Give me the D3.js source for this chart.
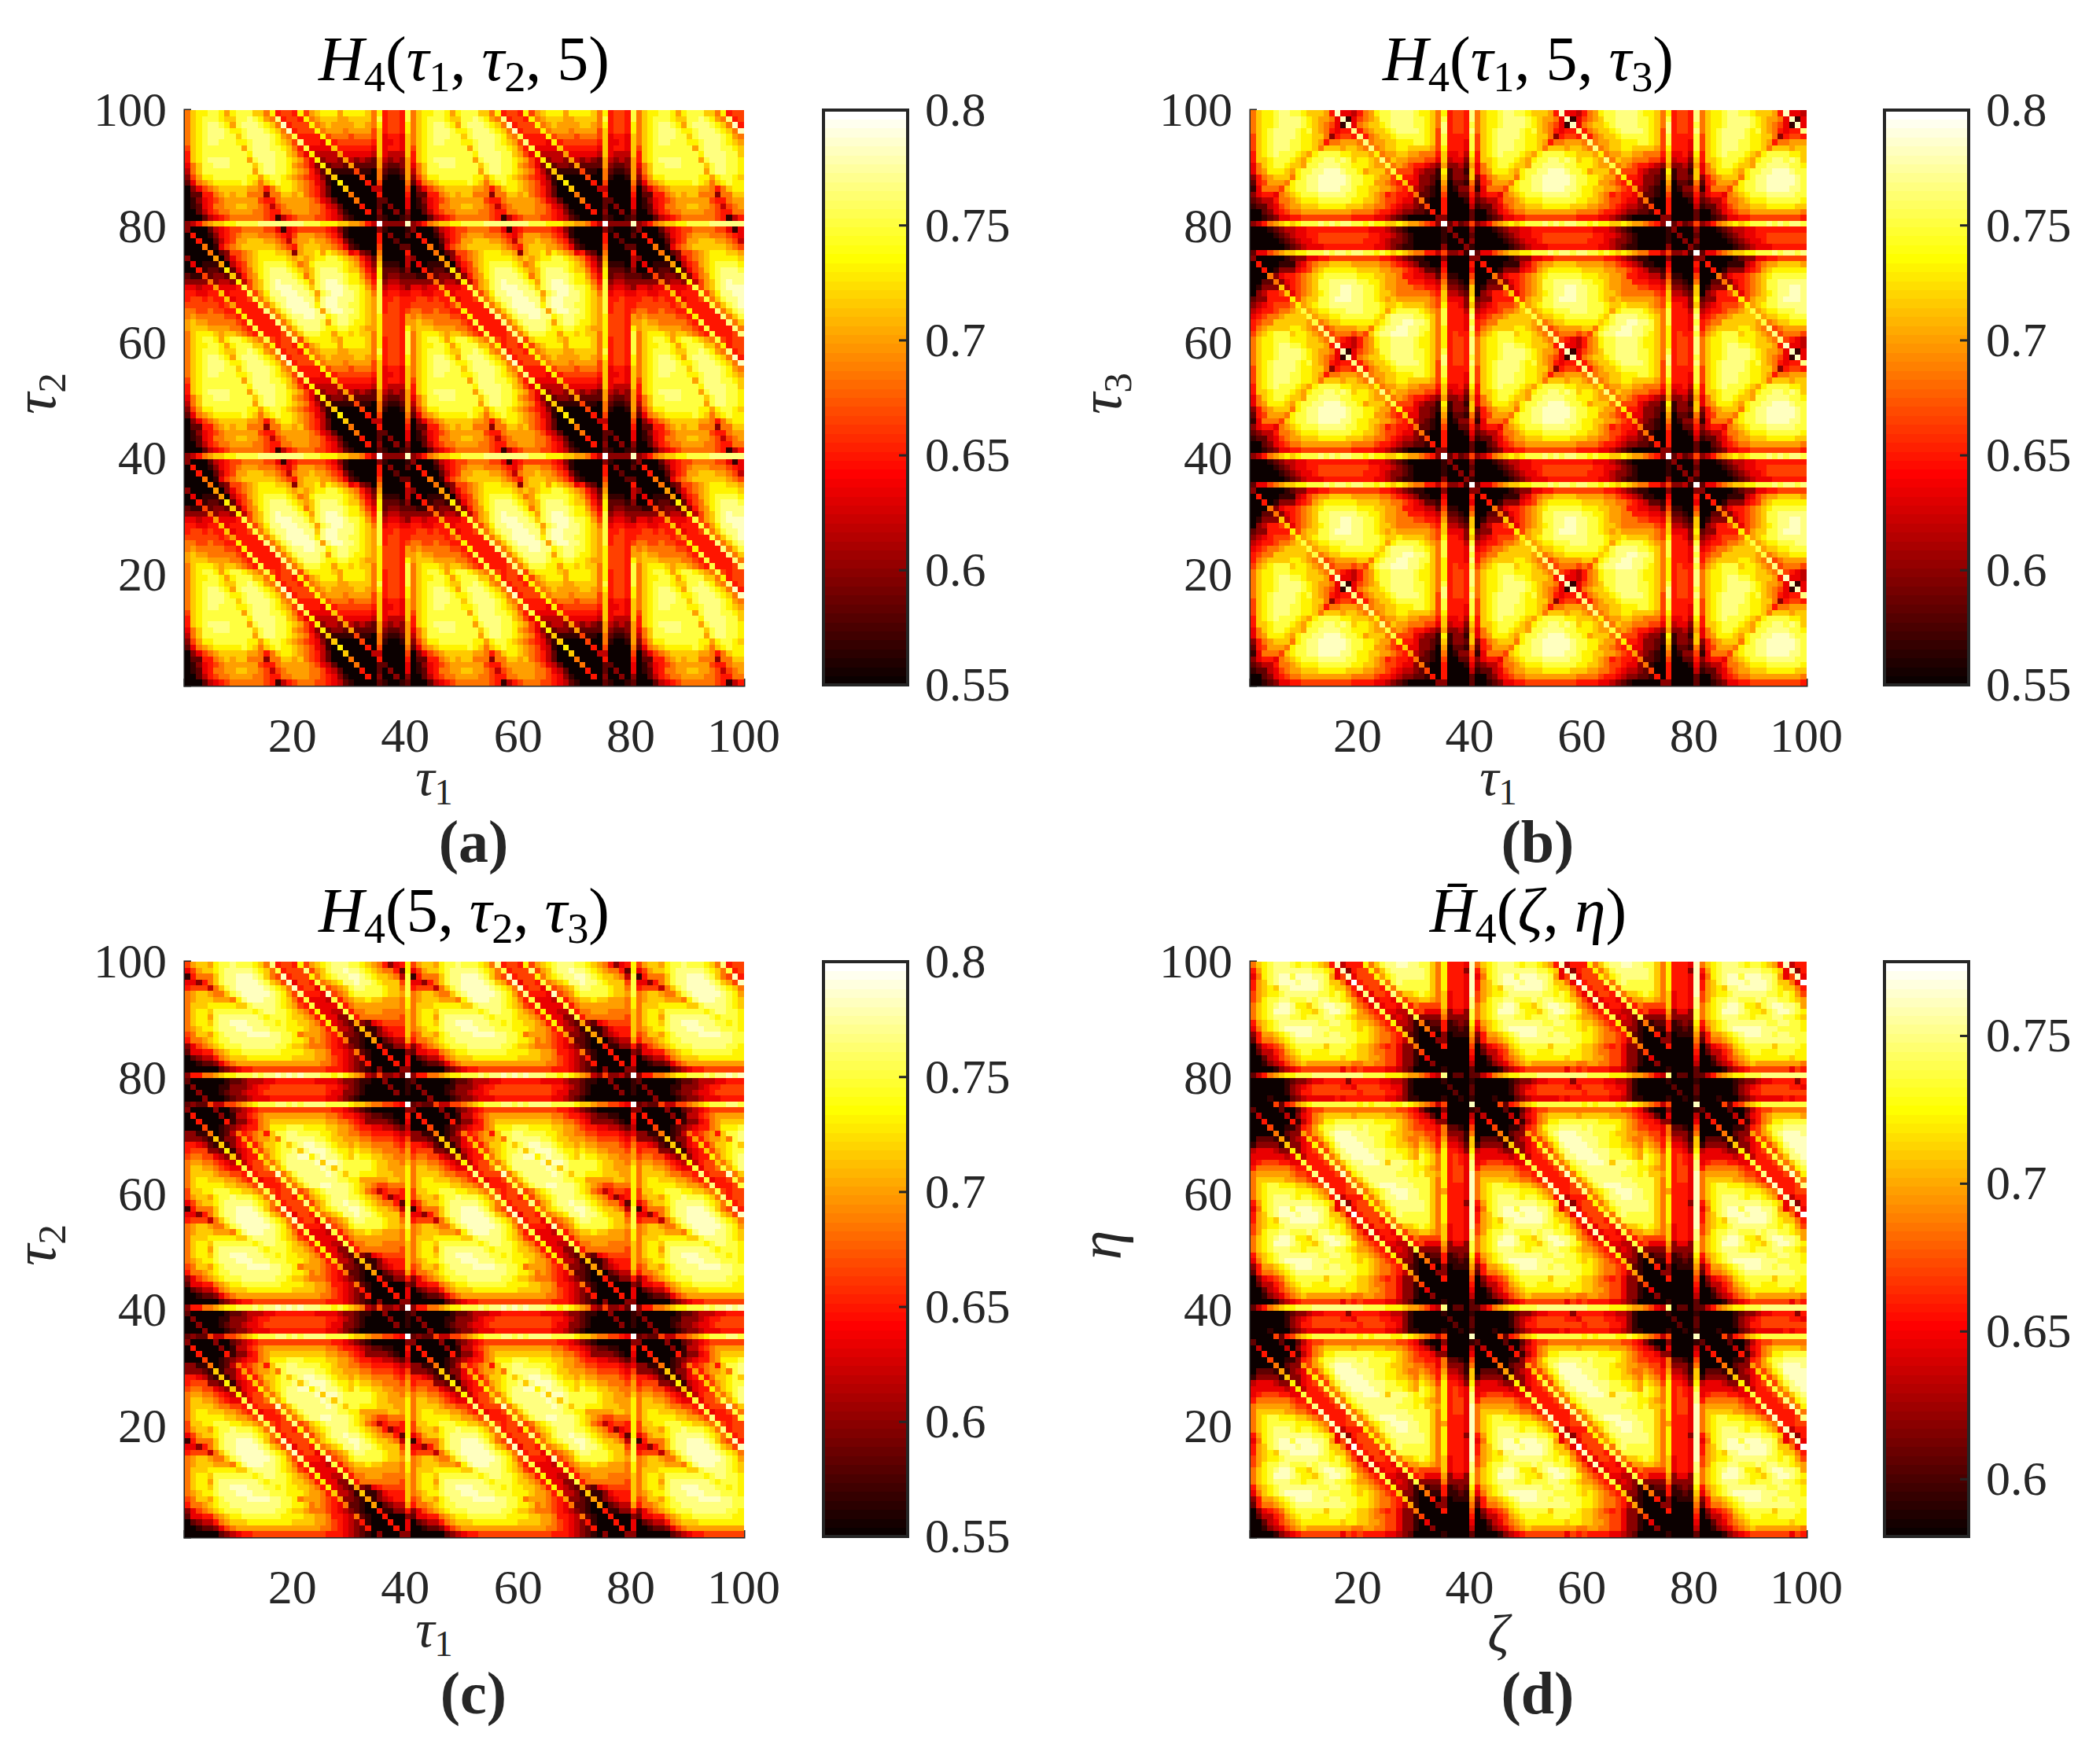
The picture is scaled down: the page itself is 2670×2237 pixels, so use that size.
<!DOCTYPE html>
<html>
<head>
<meta charset="utf-8">
<script src="https://cdn.jsdelivr.net/npm/d3@7"></script>
<style>
  html, body { margin: 0; background: #fff; }
  text { font-family: "Liberation Serif", serif; fill: #262626; }
</style>
</head>
<body>
<svg id="chart" width="2670" height="2237"></svg>
<script>
// Cell values are estimates read by eye from crops of the picture. The maps repeat
// every 40 cells, so one 40x40 period is kept per panel and repeated over the 99x99 grid.
// Each character is a colour level, 0 (bottom of the colorbar) to f (top).
var tileA = [
  "8abbccb9bc ccaa8b6776 b79abbb9bb bba8b6776c",
  "8abcccbaac cdcb98d677 6b89aaa99a aaa8c6776c",
  "8abcddcb9c dddcba8e67 77b89a9999 aa98b6776b",
  "8abcdddcbb cdddcba8e6 777b899989 9997a6776b",
  "8abcdddcca cddddcb98c 6666b78887 8887a5665a",
  "8abcddcccb bcdddcba97 d6665b6777 7776a5565a",
  "7abccccccc 9cdddccba8 6c5555a666 6665a5665a",
  "6abccccccc cbddddcca9 75b4444955 5554a5444a",
  "6abcddddcc c9cdddccba 975b344394 3432943439",
  "58accdddcc ccacddccb9 8753b23329 2222932239",
  "48accccccc cc9cddccba 98642a1111 7110821129",
  "379bbccccc cbb9bccba9 876531a000 0700810019",
  "2589abbbbb cba8abcbba 9875410b00 0060700008",
  "035789aaaa a99868abba 98764200a0 0004400007",
  "0226689a9a a888388aa9 a876420008 0000600006",
  "0135678999 9997668999 9987542000 8000220005",
  "012568899a a998747899 9988754200 0600203005",
  "0024678899 9988766889 9988765310 0060300303",
  "0002456788 8888761467 8887765421 0000210012",
  "34689aabbc cccddddddd dcccbbbaa9 9864f3333e",
  "3000245677 8888775156 7777765310 0000310001",
  "0600135678 9998887657 9998876410 0000603002",
  "0060024679 9aaa998748 99a9987631 0000600200",
  "0008015789 aaaaaa9876 9aaa998752 1000700022",
  "0000802377 89abbbaa93 9aab9ba985 6320800006",
  "3000090357 89abbbbba9 a9abbccba9 8642900004",
  "0501119046 79abccccba 89bcccccba 9753a11104",
  "0061221b25 78abcdddcb a9acdddcba a864b22213",
  "21172332a3 689bcddddc b8acddddcb b975b23322",
  "333383443b 479acdeddd cb9cdeedcb ba86c34433",
  "5545595556 c79acdeeed dcacdeeedc cb97c45543",
  "665566a566 6c79bddeee ddc9cdeedd cba8c56655",
  "6776766a56 67c8acddee eddadeeddd cba9c66766",
  "7777776796 666c8acdee eedbdeeddc cba9c67766",
  "887787766b 6666d8acde eeed9deedd cba9c67767",
  "8988888776 b6666d8acd deeddbcddc cba9b77769",
  "9a99888887 6c6666d8ac ddddc9cddc bba9b77769",
  "9aaa999988 76c6666d8a cdddcbbccb ba99b7776b",
  "8abbba9aa9 876c6667d8 acccbb9bba baa8b7776c",
  "8abccb9bcc ba98c7677d 7abbbba9bb bba8b6776c"
];
var tileB = [
  "8abbcddccb aaa96e5546 89bccddddc bba8b6776d",
  "8abbcddddc ba9985e157 89accddddc cba8c6776d",
  "8abbcddddc ba98751e58 9aabcddddc cba8d6776c",
  "8abcddddcb ca986566d6 89aabcdddd cba7d6776d",
  "7abcddddcb baa836776d 689aabcccc cba7c6666c",
  "7abcdddccb ba96889998 d899aabbbc cba7c6665c",
  "7abcdddccb ba8aaa9aa9 8d89aabbaa aa97b6665c",
  "6abcdcccba 9bccccbbaa a9b899aa99 8886a5564b",
  "6aabcccba9 bccddcdcab ba9d8a9988 8775a4553a",
  "58abccbaa9 ccddddccbb ba99c89876 6543933429",
  "589bbba9bc cddeeedccb 9aaa8c7775 4331b1331a",
  "3689aaa8bc ddeeeeedcc bba997b665 3321a1332a",
  "2679998bcc ddeeeeedcc bb99876a55 3320902218",
  "158887abcc ddeeeeddcb baa9987694 3210801337",
  "3566589abc ccdddddccb ba98676658 2210700226",
  "23446889ab bbccccccbb aa98776553 8100600015",
  "122457899a aabbbbbaaa 9988765443 2700600004",
  "0023567889 9999999988 8876654332 2160600002",
  "0012355667 7777777766 6655432100 0003300002",
  "34689ababc ccdcdcddcc bcbbaaba99 8763f24237",
  "0001234455 6666666666 6555432100 0000130003",
  "0000123455 6677777777 7665543210 0000103002",
  "0000012345 5677777777 6665433210 0000100303",
  "0000001234 5556666666 6655432110 0000300031",
  "255789aabb cccdcddcdd ccbcbaba98 866473341f",
  "3000001233 5566777777 7776654321 1000300003",
  "0600011145 7899aaaa99 9998876543 1100500006",
  "0060133356 79abbbbbba aaa9988765 4221600005",
  "0008356678 9abccccccb bbaa998665 5442711007",
  "0022835678 9accdddddc cbba998866 6554822108",
  "01333a4678 9accddeedd ccba998887 766593321a",
  "034667a578 9abcddeedd ccbaa98888 8876a4432a",
  "2336666b79 aaccdeeedd ccba9a9999 9987a5553b",
  "34567778b9 abccdddddd cccbaabaaa a987b6653a",
  "45667889ac 9abbcccddd cccb9bcccc ba98c6664c",
  "567889aaaa c9aabbcccc ccbacddddc cba8c6665d",
  "6788aaaaaa 9c89aabbbb bbabcddeed dca8c6665c",
  "689aaaabba 98d789999a a8bcddeedd cca8b6665d",
  "79abcccabb a98d788878 7acddeeedd cba8b6766c",
  "8abbcccbbb aa98d76546 89bccddddc bba8b6776d"
];
var tileC = [
  "79aa9bccdc ccba8d6776 b79abcdddc cba986356b",
  "579aabcddd ddcba8c677 7d79acdded dcba98862b",
  "16888acdde eedca87e67 77b8abcdde edcbaa984c",
  "55368acdde eeedca97e5 776c89abdd eddcbaaa7c",
  "677748acde eeeedcba8e 6775c789ac ddcccbaa8c",
  "89aa988acd eeeeedcb97 d6665e789b cccccbaa9c",
  "89aaa9998b deeeddcba8 6c5554c689 aabaa9998b",
  "8aaabbbbba acddddcba9 76c5555c68 999999998b",
  "8abbaccccc ccbcddccba 986b5544c6 889998888a",
  "8abb9cdddd dddcbcccba a986b5533c 688888887a",
  "8abbacddee edddccbcbb aa986b5432 932567777a",
  "89abbcddde eedddcccbb ba9986a443 1a1135666a",
  "78aa9bcddd deeeeddccb 8999876933 219134566a",
  "6889abccdd dddddddccb ba89876582 2109023449",
  "35789abccc ddddddccba a988876543 2100611336",
  "2556689abb cccccccbbb baa9986654 8210060003",
  "02344689aa abbbbbbbba aaa9987654 3610006005",
  "0012235789 9999999999 9999887654 3260000605",
  "0000002345 6677777777 7777766654 3210300033",
  "366889abbc ccdcddeded edddccbcba 984373342f",
  "2000000122 3444556666 6665555433 2110030001",
  "0300001133 3456677777 7777766543 2100003001",
  "0030001233 4556777777 7777765533 2100000301",
  "0003000123 3455566666 6666655432 1000000000",
  "2322744778 9abcccddcd cddddccccb aa9887765f",
  "3000030023 4567777777 7777776654 3210000003",
  "0600003014 4678999999 9999988766 5432211006",
  "0060000613 35689aaaaa aaaaa99887 6533332105",
  "0007001234 56689bbbcc cbbbbaa998 7665544324",
  "3311801248 67896accdd ccccbba998 8776666545",
  "33321a1335 96899a8cdd dddccbaa99 9887777657",
  "665421a135 6a68aabcac deeddcbaa9 a998888768",
  "6777332b14 56a79abccd adeeedcbba baa9988879",
  "78877543a3 566b8abcdd eebdeddcba cbbaa99889",
  "899887654b 4677a8acdd dddeaeedcc cccbaa998a",
  "8aa9987655 c5778c9bdd ddddedadcc cccbaa999b",
  "8aaaa98877 6d6777e8ac dddddedcac cbbbaaa99b",
  "8abbaaa998 76c5667c8a cddddddccb b99999aa9b",
  "8abbbbbaa9 987d6667c8 acddeedddc ba9877888b",
  "7aabbcccbb aa98c7677d 78abcddddc ba8746776b"
];
var tileD = [
  "8abcdddcbc cba96e4666 b8acddeedd cca8b6665e",
  "69bcdddddd dccba5e367 7b8acddddd dca8b6663e",
  "58bcdeecee eddc957e57 77b9bcdddd dca8b6665e",
  "69acdeeede eedcaa85f6 777c8cdccc cca8b6665e",
  "69abaddeee eedcbaa86e 6776c8cccc cca8b6665e",
  "79abbcdddd ddccbcb975 d5776d8aab cba8a5665e",
  "79bccddccc dcddccba97 5e5665c799 aa98a5665d",
  "8abcdeedbb acdeeddc98 75d5665c68 7777a5665d",
  "8abceeedcb bacdeedcb9 876c5544c6 755593553c",
  "8abcdddccb cccddccba9 9876c4543c 333383333c",
  "69abcddddd ddccddccba a9876b4431 812261232b",
  "58abcdeeee edddccccba ba9876a331 081161121a",
  "3699abcdee eddcddcccb ba98876a21 0060301119",
  "26889abcdd dddddddccb ba98876491 0003300008",
  "035678abcc cccaccccba a987675338 0000600007",
  "0244679abc cbbbcccbba a988775331 7000000006",
  "00245789ab bbbbbbabba a998775331 0500000005",
  "001345789a 9999999988 9988775331 0030000004",
  "0000134567 7777775767 6666554320 0000100002",
  "24689abbcc cddddddddd ccccbbba99 8754d02202",
  "0000001233 4556666366 6665544310 0000100001",
  "0000001345 6777776657 7776655310 0000020002",
  "0000001346 6777777776 7777665310 0000002002",
  "0001000234 5555565666 6666554311 0000100101",
  "000072679a bccccccccb cbcccbbcba 987470000e",
  "2000020024 6778888888 8888887765 3100300001",
  "0400004035 689aaaaa9a aaaa999876 5420500004",
  "0060000614 689bbccccc ccbbbba987 6653300005",
  "0007001136 79bccddddc dccccba987 7665822107",
  "0000802339 79acdeeedd dcccbaa998 8775833318",
  "0222191345 a79bceeeed ddccbba988 987694431a",
  "133331a335 6b79bdeeee ddccbbaa98 a986a5542a",
  "4555433b35 67c7acdeee edddccbba9 ba97b6653b",
  "55555545b4 667c8addee eeddcccba9 cba8b6765c",
  "567776655c 6667c8acdd eeedadddcb cba8b6765d",
  "6888888766 c6667d8bcd dddddddccb ba98b6775d",
  "8999999877 6d6667e8bc ddddddcccb caa9b6775e",
  "8aaaaa9988 76e6666d8a cdddddddcc cca8b6775e",
  "8abccbbbaa 987e6667d8 acdeeedddc cca8b6665e",
  "8abcccccbb ba98e6677d 8abcdeeedd cca896665e"
];

var axisTicks = [20, 40, 60, 80, 100];
var barTicks = [0.55, 0.6, 0.65, 0.7, 0.75, 0.8];
var barTicksD = [0.6, 0.65, 0.7, 0.75];
var barDomain = [0.55, 0.8];
var barDomainD = [0.5805, 0.775];

var it = 'italic', sub = 'sub';
var titleA = [['H', it], ['4', sub], ['('], ['τ', it], ['1', sub], [', '], ['τ', it], ['2', sub], [', 5)']];
var titleB = [['H', it], ['4', sub], ['('], ['τ', it], ['1', sub], [', 5, '], ['τ', it], ['3', sub], [')']];
var titleC = [['H', it], ['4', sub], ['(5, '], ['τ', it], ['2', sub], [', '], ['τ', it], ['3', sub], [')']];
var titleD = [['H\u0304', it], ['4', sub], ['('], ['ζ', it], [', '], ['η', it], [')']];
var tau1 = [['τ', it], ['1', sub]], tau2 = [['τ', it], ['2', sub]], tau3 = [['τ', it], ['3', sub]];

var panels = [
  {tile: tileA, left: 235, top: 140, w: 710, barX: 1047, domain: barDomain, ticks: barTicks, title: titleA, xlab: tau1, xlabY: 140, ylab: tau2, cap: '(a)'},
  {tile: tileB, left: 1590, top: 140, w: 706, barX: 2396, domain: barDomain, ticks: barTicks, title: titleB, xlab: tau1, xlabY: 140, ylab: tau3, cap: '(b)'},
  {tile: tileC, left: 235, top: 1223, w: 710, barX: 1047, domain: barDomain, ticks: barTicks, title: titleC, xlab: tau1, xlabY: 140, ylab: tau2, cap: '(c)'},
  {tile: tileD, left: 1590, top: 1223, w: 706, barX: 2396, domain: barDomainD, ticks: barTicksD, title: titleD, xlab: [['ζ', it]], xlabY: 146, ylab: [['η', it]], cap: '(d)'}
];

var plotH = 731, grid = d3.range(1, 100);
var svg = d3.select('#chart');

// matlab hot, 64 steps
var hotColors = d3.range(64).map(function(k) {
  var t = (k + 1) / 64;
  return d3.rgb(255 * Math.min(1, t / 0.375),
                255 * Math.max(0, Math.min(1, (t - 0.375) / 0.375)),
                255 * Math.max(0, (t - 0.75) / 0.25)).formatHex();
});

function mathText(sel, parts, size) {
  var shifted = false;
  parts.forEach(function(p) {
    var isSub = p[1] === sub,
        span = sel.append('tspan').text(p[0]);
    span.attr('font-size', isSub ? size * 0.68 : size);
    if (p[1] === it) span.attr('font-style', 'italic');
    if (isSub) { span.attr('dy', size * 0.17); shifted = true; }
    else if (shifted) { span.attr('dy', -size * 0.17); shifted = false; }
  });
}

function drawAxisStyle(g) {
  g.selectAll('path').attr('stroke', '#262626').attr('stroke-width', 4);
  g.selectAll('line').attr('stroke', '#262626').attr('stroke-width', 3);
  g.selectAll('text').attr('font-size', 62).attr('fill', '#262626')
    .attr('font-family', '"Liberation Serif", serif');
}

function drawPanel(p) {
  var x = d3.scaleLinear().domain([1, 100]).range([p.left, p.left + p.w]),
      y = d3.scaleLinear().domain([1, 100]).range([p.top + plotH, p.top]),
      color = d3.scaleQuantize().domain(p.domain).range(hotColors),
      rows = p.tile.map(function(r) { return r.replace(/ /g, ''); }),
      cells = [];

  grid.forEach(function(i) {
    grid.forEach(function(j) {
      var level = parseInt(rows[(99 - j) % 40][(i - 1) % 40], 16);
      cells.push({i: i, j: j, v: p.domain[0] + level / 15 * (p.domain[1] - p.domain[0])});
    });
  });

  // axes go under the cells, as only their outer half shows in the picture
  svg.append('g')
    .attr('transform', 'translate(0,' + (p.top + plotH) + ')')
    .call(d3.axisBottom(x).tickValues(axisTicks).tickSize(-8).tickPadding(41).tickFormat(d3.format('d')))
    .call(drawAxisStyle);
  svg.append('g')
    .attr('transform', 'translate(' + p.left + ',0)')
    .call(d3.axisLeft(y).tickValues(axisTicks).tickSize(-8).tickPadding(23).tickFormat(d3.format('d')))
    .call(drawAxisStyle);

  svg.append('g').attr('shape-rendering', 'crispEdges')
    .selectAll('rect').data(cells)
    .enter().append('rect')
    .attr('x', function(d) { return x(d.i); })
    .attr('y', function(d) { return y(d.j + 1); })
    .attr('width', function(d) { return x(d.i + 1) - x(d.i) + 0.5; })
    .attr('height', function(d) { return y(d.j) - y(d.j + 1) + 0.5; })
    .attr('fill', function(d) { return color(d.v); });

  // colorbar
  var barW = 107,
      barY = d3.scaleLinear().domain(p.domain).range([p.top + plotH, p.top]),
      span = p.domain[1] - p.domain[0];
  svg.append('g').attr('shape-rendering', 'crispEdges')
    .selectAll('rect').data(hotColors)
    .enter().append('rect')
    .attr('x', p.barX)
    .attr('width', barW)
    .attr('y', function(d, k) { return barY(p.domain[0] + (k + 1) / 64 * span); })
    .attr('height', plotH / 64 + 0.5)
    .attr('fill', function(d) { return d; });
  svg.append('rect')
    .attr('x', p.barX).attr('y', p.top).attr('width', barW).attr('height', plotH)
    .attr('fill', 'none').attr('stroke', '#262626').attr('stroke-width', 4);
  svg.append('g')
    .attr('transform', 'translate(' + (p.barX + barW) + ',0)')
    .call(d3.axisRight(barY).tickValues(p.ticks).tickSize(-11).tickPadding(22).tickFormat(d3.format('~g')))
    .call(drawAxisStyle)
    .call(function(g) { g.select('.domain').remove(); });

  // texts
  var mid = p.left + p.w / 2;
  mathText(svg.append('text').attr('x', mid).attr('y', p.top - 38)
    .attr('text-anchor', 'middle').style('fill', '#000'), p.title, 80);
  mathText(svg.append('text').attr('x', mid - 38).attr('y', p.top + plotH + p.xlabY)
    .attr('text-anchor', 'middle'), p.xlab, 68);
  mathText(svg.append('text')
    .attr('transform', 'translate(' + (p.left - 165) + ',' + (p.top + plotH / 2 - 5) + ') rotate(-90)')
    .attr('text-anchor', 'middle'), p.ylab, 76);
  svg.append('text').attr('x', mid + 12).attr('y', p.top + plotH + 225)
    .attr('text-anchor', 'middle').attr('font-weight', 'bold').attr('font-size', 76)
    .text(p.cap);
}

panels.forEach(drawPanel);
</script>
</body>
</html>
